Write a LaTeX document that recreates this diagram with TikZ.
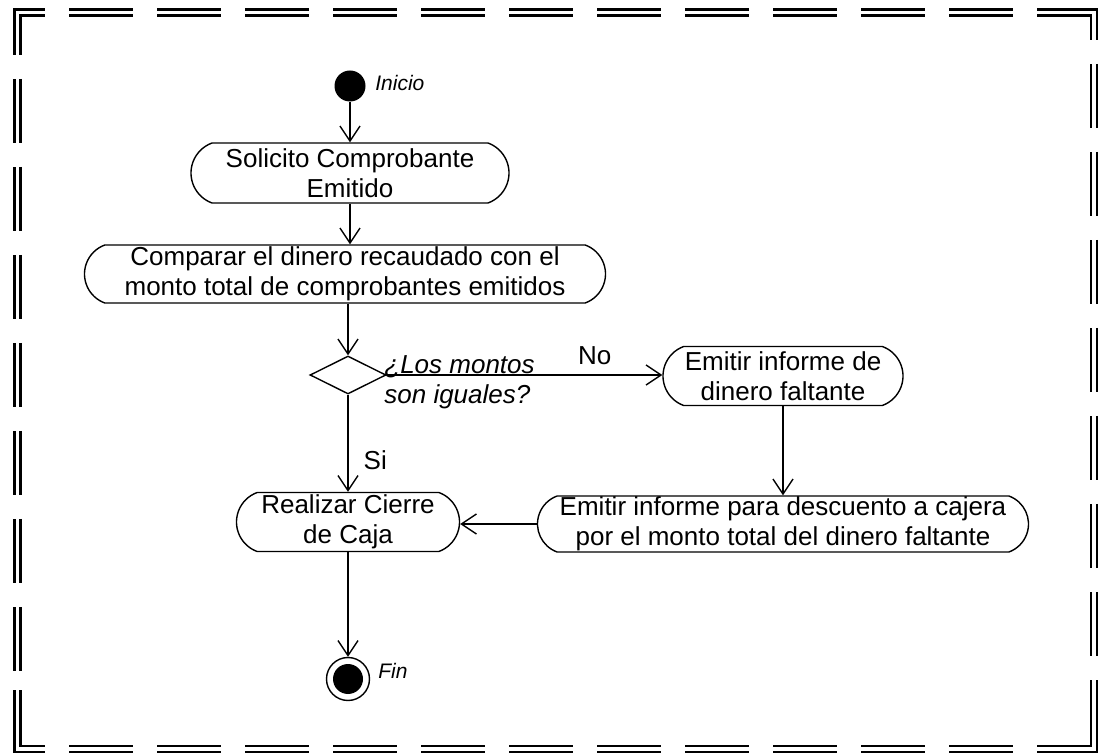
\documentclass[tikz,border=0pt]{standalone}
\usepackage{fontspec}
\setmainfont{Liberation Sans}
\usetikzlibrary{shapes.misc,shapes.geometric,arrows.meta}
\begin{document}
\begin{tikzpicture}[x=0.5pt,y=-0.5pt,
  act/.style={draw, line width=0.7pt, rounded rectangle, rounded rectangle arc length=140,
    inner sep=0pt, align=center, font=\fontsize{13}{15}\selectfont},
  flow/.style={line width=0.7pt, -{Straight Barb[length=7.5pt,width=10pt,line width=0.7pt]}},
  frame/.style={line width=1.4pt, double, double distance=1.6pt},
  fdash/.style={frame, dash pattern=on 32pt off 12pt, dash phase=32pt},
  lbl/.style={inner sep=0pt, font=\fontsize{13}{15}\selectfont},
  small/.style={inner sep=0pt, font=\fontsize{10.5}{12}\selectfont\itshape}
]
\useasboundingbox (0,0) rectangle (1099,754);

% frame
\coordinate (TL) at (17.5,12.5);
\coordinate (TR) at (1094,12.5);
\coordinate (BL) at (17.5,749);
\coordinate (BR) at (1094,749);
\draw[frame] (17.5,55) -- (TL) -- (45,12.5);
\draw[frame] (1066,12.5) -- (TR) -- (1094,40);
\draw[frame] (17.5,690) -- (BL) -- (45,749);
\draw[frame] (1066,749) -- (BR) -- (1094,721);
\draw[fdash] (45,12.5) -- (1066,12.5);
\draw[fdash] (45,749) -- (1066,749);
\draw[fdash] (17.5,55) -- (17.5,690);
\draw[fdash] (1094,40) -- (1094,721);

% nodes
\node[circle, fill, inner sep=0pt, minimum size=15.5pt] (ini) at (350,86) {};
\node[small, anchor=west] (inil) at (375,83) {Inicio};

\node[act, minimum width=159pt, minimum height=30pt] (sol) at (350,173)
  {Solicito Comprobante\\Emitido};
\node[act, minimum width=260.5pt, minimum height=29pt] (comp) at (345,274)
  {Comparar el dinero recaudado con el\\monto total de comprobantes emitidos};
\node[diamond, draw, line width=0.7pt, aspect=2, inner sep=0pt,
  minimum width=38pt, minimum height=19pt] (dia) at (348,375) {};
\node[lbl, anchor=west, align=left, font=\fontsize{13}{15}\selectfont\itshape] (q) at (384,382)
  {¿Los montos\\son iguales?};
\node[act, minimum width=120pt, minimum height=29.5pt] (em1) at (783,376)
  {Emitir informe de\\dinero faltante};
\node[act, minimum width=245.5pt, minimum height=28pt] (em2) at (783,524)
  {Emitir informe para descuento a cajera\\por el monto total del dinero faltante};
\node[act, minimum width=111.5pt, minimum height=29.5pt] (real) at (348,522)
  {Realizar Cierre\\de Caja};

\node[circle, draw, line width=0.7pt, inner sep=0pt, minimum size=21.5pt] (fin) at (348,679) {};
\node[circle, fill, inner sep=0pt, minimum size=15pt] (finin) at (fin.center) {};
\node[small, anchor=west] (finl) at (378,671) {Fin};

% connectors
\draw[flow] (ini) -- (ini |- sol.north);
\draw[flow] (sol.south) -- (sol.south |- comp.north);
\draw[flow] (dia.north |- comp.south) -- (dia.north);
\draw[flow] (dia.east) -- (dia.east -| em1.west)
  node[lbl, pos=0.755, above=5pt] {No};
\draw[flow] (dia.south) -- (dia.south |- real.north)
  node[lbl, pos=0.67, right=7.5pt] {Si};
\draw[flow] (em1.south) -- (em1.south |- em2.north);
\draw[flow] (em2.west) -- (em2.west -| real.east);
\draw[flow] (real.south) -- (fin.north);
\end{tikzpicture}
\end{document}
